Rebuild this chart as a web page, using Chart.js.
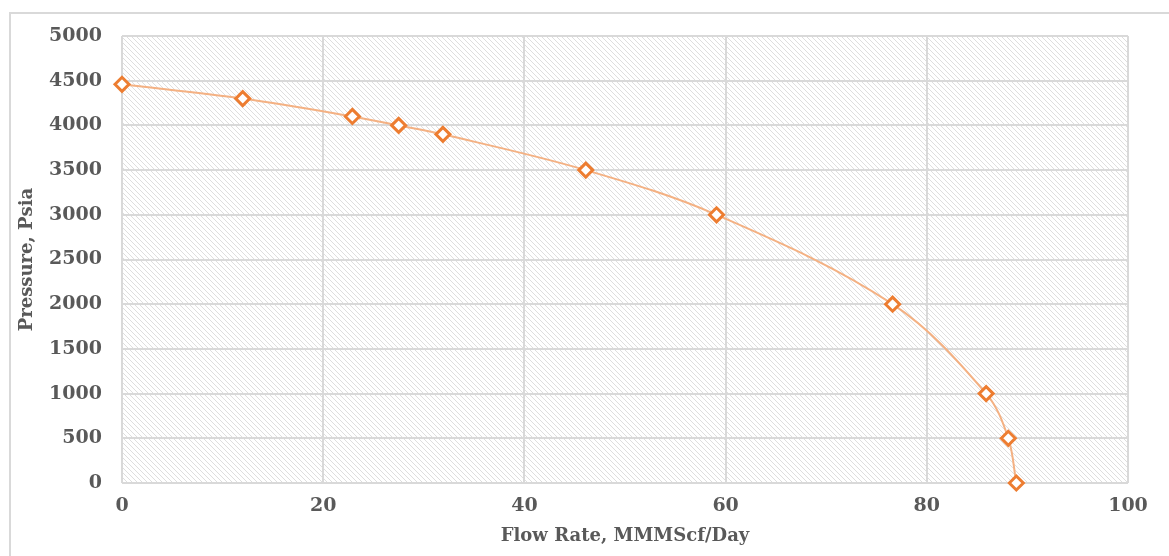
<!DOCTYPE html>
<html>
<head>
<meta charset="utf-8">
<script src="https://cdn.jsdelivr.net/npm/chart.js@4.4.0/dist/chart.umd.min.js"></script>
<style>
  html, body { margin: 0; background: #fff; overflow: hidden; }
  #box { position: relative; width: 1169px; height: 556px; overflow: hidden; }
  #frame { position: absolute; left: 9px; top: 12px; width: 1400px; height: 700px; border: 2px solid #d9d9d9; }
  #chart { position: absolute; left: 0; top: 0; }
</style>
</head>
<body>
<div id="box">
<div id="frame"></div>
<canvas id="chart" width="1169" height="556"></canvas>
</div>
<script>
const flowRate = [0, 12, 22.9, 27.5, 31.9, 46.1, 59.1, 76.6, 85.9, 88.1, 88.9];
const pressure = [4460, 4300, 4100, 4000, 3900, 3500, 3000, 2000, 1000, 500, 0];

const cht = document.getElementById('chart');

// diagonal hatch for the plot area
const pc = document.createElement('canvas');
pc.width = 5; pc.height = 5;
const px = pc.getContext('2d');
px.strokeStyle = '#dedede';
px.lineWidth = 1;
px.beginPath();
px.moveTo(-1, -1); px.lineTo(6, 6);
px.moveTo(-1, 4); px.lineTo(1, 6);
px.moveTo(4, -1); px.lineTo(6, 1);
px.stroke();

const hatch = {
  id: 'hatch',
  beforeDraw(chart) {
    const a = chart.chartArea, ctx = chart.ctx;
    ctx.save();
    ctx.fillStyle = ctx.createPattern(pc, 'repeat');
    ctx.fillRect(a.left, a.top, a.right - a.left, a.bottom - a.top);
    ctx.restore();
  }
};

const font = { family: 'DejaVu Serif', weight: 'bold', size: 19 };
const titleFont = { family: 'DejaVu Serif', weight: 'bold', size: 18 };

new Chart(cht, {
  type: 'scatter',
  data: {
    datasets: [{
      data: flowRate.map((x, i) => ({ x: x, y: pressure[i] })),
      showLine: true,
      tension: 0.35,
      clip: false,
      borderColor: '#f4b183',
      borderWidth: 2,
      pointStyle: 'rectRot',
      pointRadius: 7,
      pointHoverRadius: 7,
      pointBorderWidth: 3,
      pointBorderColor: '#ed7d31',
      pointBackgroundColor: '#fff'
    }]
  },
  options: {
    responsive: false,
    animation: false,
    devicePixelRatio: 1,
    layout: { padding: { left: 16, top: 36, right: 41, bottom: 5 } },
    plugins: { legend: { display: false }, tooltip: { enabled: false } },
    scales: {
      x: {
        min: 0, max: 100,
        ticks: { stepSize: 20, color: '#595959', font: font, padding: 12, callback: v => String(v) },
        grid: { color: '#d9d9d9', lineWidth: 2, drawTicks: false },
        border: { display: false },
        title: { display: true, text: 'Flow Rate, MMMScf/Day', color: '#595959', font: titleFont, padding: { top: 5 } },
        afterFit: s => { s.height = 68; }
      },
      y: {
        min: 0, max: 5000,
        ticks: { stepSize: 500, color: '#595959', font: font, padding: 20, callback: v => String(v) },
        grid: { color: '#d9d9d9', lineWidth: 2, drawTicks: false },
        border: { display: false },
        title: { display: true, text: 'Pressure, Psia', color: '#595959', font: titleFont, padding: 1 },
        afterFit: s => { s.width = 106; }
      }
    }
  },
  plugins: [hatch]
});
</script>
</body>
</html>
